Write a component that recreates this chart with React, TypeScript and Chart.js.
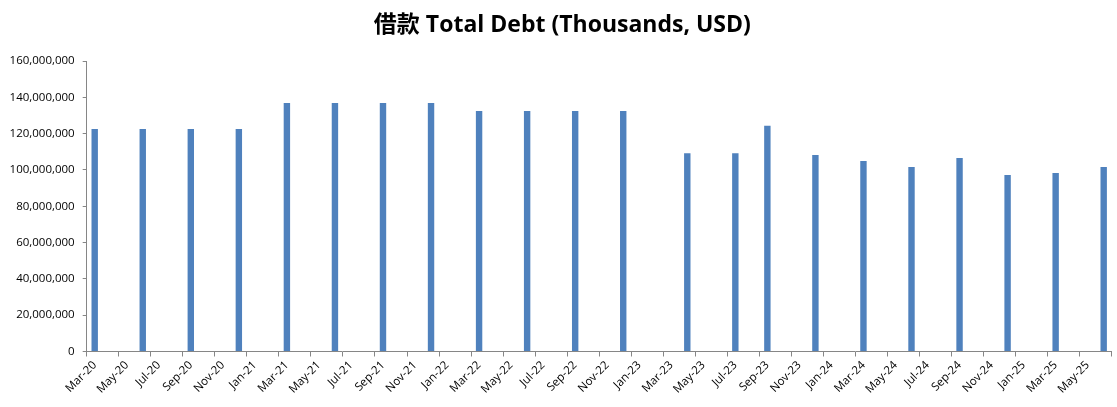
import React, { useEffect, useRef } from 'react';
import { Chart, registerables } from 'chart.js';

Chart.register(...registerables);

// Axis range (monthly date axis, base unit = month)
const MONTH_NAMES = ['Jan', 'Feb', 'Mar', 'Apr', 'May', 'Jun', 'Jul', 'Aug', 'Sep', 'Oct', 'Nov', 'Dec'];
const AXIS_START = { year: 2020, month: 3 };
const AXIS_END = { year: 2025, month: 6 };

// Reported periods and total debt (thousands, USD)
const periods = [
  'Mar-20', 'Jun-20', 'Sep-20', 'Dec-20',
  'Mar-21', 'Jun-21', 'Sep-21', 'Dec-21',
  'Mar-22', 'Jun-22', 'Sep-22', 'Dec-22',
  'Apr-23', 'Jul-23', 'Sep-23', 'Dec-23',
  'Mar-24', 'Jun-24', 'Sep-24', 'Dec-24',
  'Mar-25', 'Jun-25',
];
const totalDebt = [
  122500000, 122500000, 122500000, 122500000,
  136900000, 136900000, 136900000, 136900000,
  132500000, 132500000, 132500000, 132500000,
  109200000, 109200000, 124400000, 108200000,
  104900000, 101600000, 106600000, 97200000,
  98300000, 101600000,
];

const TITLE = '借款 Total Debt (Thousands, USD)';
const Y_MIN = 0;
const Y_MAX = 160000000;
const Y_STEP = 20000000;

function buildMonths(): string[] {
  const out: string[] = [];
  let y = AXIS_START.year;
  let m = AXIS_START.month;
  while (y < AXIS_END.year || (y === AXIS_END.year && m <= AXIS_END.month)) {
    out.push(`${MONTH_NAMES[m - 1]}-${String(y % 100).padStart(2, '0')}`);
    m++;
    if (m > 12) { m = 1; y++; }
  }
  return out;
}

const AXIS_FONT = "'Open Sans', 'Noto Sans', sans-serif";
const GRAY = '#868686';

// shifts the title a little to the right, as in the reference
const titleShift = {
  id: 'titleShift',
  afterLayout(chart: any) {
    const t = chart.titleBlock;
    if (t) { t.left += 13; }
  },
};

export default function App() {
  const ref = useRef<HTMLCanvasElement | null>(null);

  useEffect(() => {
    if (!ref.current) return;
    const months = buildMonths();
    const data = months.map((mo) => {
      const i = periods.indexOf(mo);
      return i >= 0 ? totalDebt[i] : null;
    });

    const chart = new Chart(ref.current, {
      type: 'bar',
      data: {
        labels: months,
        datasets: [
          {
            label: 'Total Debt',
            data,
            backgroundColor: '#4F81BD',
            borderWidth: 0,
            barPercentage: 0.4,
            categoryPercentage: 1.0,
          },
        ],
      },
      plugins: [titleShift],
      options: {
        responsive: false,
        animation: false,
        maintainAspectRatio: false,
        layout: { padding: { left: 0, right: 5.3, top: 0, bottom: 0 } },
        plugins: {
          legend: { display: false },
          tooltip: { enabled: false },
          title: {
            display: true,
            text: TITLE,
            color: '#000',
            font: { family: "'Open Sans', 'Noto Sans CJK SC', sans-serif", size: 23, weight: 'bold' },
            padding: { top: 11.5, bottom: 21.9 },
          },
        },
        scales: {
          x: {
            type: 'category',
            offset: true,
            grid: {
              offset: true,
              drawOnChartArea: false,
              drawTicks: true,
              tickLength: 5,
              lineWidth: 1,
              color: (ctx: any) =>
                ctx.index === undefined || ctx.index % 2 === 0 ? GRAY : 'rgba(0,0,0,0)',
            },
            border: { display: true, color: GRAY, width: 1 },
            ticks: {
              autoSkip: false,
              maxRotation: 45,
              minRotation: 45,
              color: '#000',
              padding: 2,
              labelOffset: 0,
              font: { family: AXIS_FONT, size: 11.5 },
              callback: (_v: any, index: number) => (index % 2 === 0 ? months[index] : ''),
            },
            afterFit: (s: any) => { s.height = 55.5; },
          },
          y: {
            min: Y_MIN,
            max: Y_MAX,
            grid: {
              drawOnChartArea: false,
              drawTicks: true,
              tickLength: 4,
              color: GRAY,
            },
            border: { display: true, color: GRAY, width: 1 },
            ticks: {
              stepSize: Y_STEP,
              color: '#000',
              padding: 8,
              font: { family: AXIS_FONT, size: 11.5 },
              callback: (v: any) => Number(v).toLocaleString('en-US'),
            },
            afterFit: (s: any) => { s.width = 86.7; },
          },
        },
      },
    });
    return () => chart.destroy();
  }, []);

  return (
    <div style={{ position: 'absolute', left: 0, top: 0, width: 1117, height: 407, background: '#fff' }}>
      <canvas ref={ref} width={1117} height={407} style={{ width: 1117, height: 407, display: 'block' }} />
    </div>
  );
}
